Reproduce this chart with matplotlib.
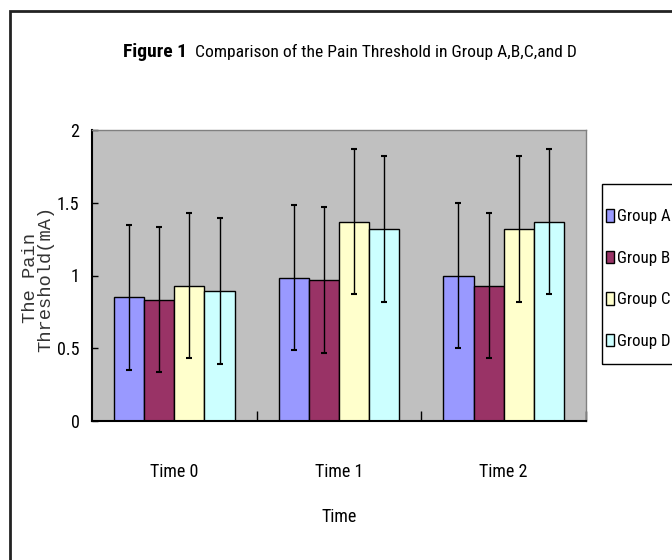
import numpy as np
import matplotlib
matplotlib.use('Agg')
import matplotlib.pyplot as plt
from matplotlib import font_manager
from matplotlib.patches import Rectangle

# 数据
times = ['Time 0', 'Time 1', 'Time 2']
groups = ['Group A', 'Group B', 'Group C', 'Group D']
group_a = [0.85, 0.985, 1.00]
group_b = [0.835, 0.97, 0.93]
group_c = [0.93, 1.37, 1.32]
group_d = [0.895, 1.32, 1.37]
err_a = [0.5, 0.5, 0.5]
err_b = [0.5, 0.5, 0.5]
err_c = [0.5, 0.5, 0.5]
err_d = [0.5, 0.5, 0.5]
colors = ['#9999FF', '#993366', '#FFFFCC', '#CCFFFF']
yticks = [0, 0.5, 1, 1.5, 2]
ytick_labels = ['0', '0.5', '1', '1.5', '2']

# 挑一个窄字体
installed = {f.name for f in font_manager.fontManager.ttflist}
narrow = 'Liberation Serif'
for n in ['Liberation Sans Narrow', 'Arial Narrow', 'Roboto Condensed', 'Open Sans Condensed']:
    if n in installed:
        narrow = n
        break
mono = 'Liberation Mono' if 'Liberation Mono' in installed else 'DejaVu Sans Mono'

W, H = 672, 560
fig = plt.figure(figsize=(W / 100, H / 100), dpi=100)
ax = fig.add_axes([92 / W, 1 - 421 / H, (586 - 92) / W, (421 - 130) / H])
ax.set_facecolor('#C0C0C0')

x = np.arange(len(times))
width = 0.183
series = [group_a, group_b, group_c, group_d]
errs = [err_a, err_b, err_c, err_d]
for i, (vals, e) in enumerate(zip(series, errs)):
    ax.bar(x + (i - 1.5) * width, vals, width, color=colors[i], edgecolor='black',
           linewidth=1, label=groups[i], zorder=2,
           yerr=e, error_kw=dict(ecolor='black', elinewidth=1, capsize=2.5, capthick=1.5, zorder=3))

ax.set_xlim(-0.5, 2.5)
ax.set_ylim(0, 2)

# 坐标轴
ax.set_yticks(yticks)
ax.set_yticklabels(ytick_labels, family=narrow, fontsize=13)
ax.tick_params(axis='y', direction='in', length=4, width=1, pad=9)
ax.set_xticks(x)
ax.set_xticklabels(times, family=narrow, fontsize=13)
ax.set_xticks([0.5, 1.5, 2.5], minor=True)
ax.tick_params(axis='x', which='major', length=0, pad=30)
ax.tick_params(axis='x', which='minor', direction='in', length=7, width=1)

for s in ['top', 'right']:
    ax.spines[s].set_color('#808080')
    ax.spines[s].set_linewidth(1)
for s in ['left', 'bottom']:
    ax.spines[s].set_color('black')
    ax.spines[s].set_linewidth(1.5)

ax.set_xlabel('Time', family=narrow, fontsize=13, labelpad=20)
ax.set_ylabel('The Pain\nThreshold(mA)', family=mono, fontsize=13.5, linespacing=0.82,
              color='#333333', va='center')
ax.yaxis.set_label_coords(-(92 - 38) / (586 - 92), 0.49)

# 标题
ty = 1 - 52 / H
t1 = fig.text(0, ty, 'Figure 1', family=narrow, fontsize=14, fontweight='bold', ha='left', va='center')
t2 = fig.text(0, ty, 'Comparison of the Pain Threshold in Group A,B,C,and D', family=narrow,
              fontsize=12.6, ha='left', va='center')
r = fig.canvas.get_renderer()
w1 = t1.get_window_extent(r).width
w2 = t2.get_window_extent(r).width
gap = 8
left = 350 - (w1 + gap + w2) / 2
t1.set_x(left / W)
t2.set_x((left + w1 + gap) / W)

# 图例
leg = fig.legend(loc='center left', bbox_to_anchor=(606 / W, 1 - 279 / H), frameon=False,
                 prop={'family': narrow, 'size': 12.2}, handlelength=0.45,
                 handleheight=0.75, handletextpad=0.2, labelspacing=1.55, borderpad=0,
                 borderaxespad=0)
fig.add_artist(Rectangle((602 / W, 1 - 364 / H), 0.2, 180 / H, transform=fig.transFigure,
                         fill=False, edgecolor='black', linewidth=1))

# 外框
fig.add_artist(Rectangle((10 / W, -0.1), 1.2, 1.1 - 11 / H, transform=fig.transFigure,
                         fill=False, edgecolor='#222222', linewidth=2))

fig.savefig('out.png', dpi=100)
